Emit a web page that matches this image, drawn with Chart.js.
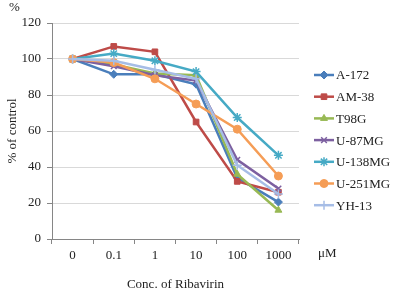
<!DOCTYPE html>
<html>
<head>
<meta charset="utf-8">
<script src="https://cdn.jsdelivr.net/npm/chart.js@4.4.1/dist/chart.umd.min.js"></script>
<style>
  html, body { margin: 0; padding: 0; background: #fff; }
  #wrap { width: 399px; height: 292px; position: relative; }
</style>
</head>
<body>
<div id="wrap"><canvas id="c"></canvas></div>
<script>
// concentrations of ribavirin (uM)
const doses = ['0', '0.1', '1', '10', '100', '1000'];
const yTicks = [0, 20, 40, 60, 80, 100, 120];

// % of control per cell line
const a172    = [100, 91.5, 91.5, 86, 34, 20.5];
const am38    = [100, 107, 104, 65, 32, 26];
const t98g    = [100, 97, 92, 91, 36, 16];
const u87mg   = [100, 96, 91, 88, 44, 28];
const u138mg  = [100, 103, 99, 93, 67.5, 46.5];
const u251mg  = [100, 98, 89, 75, 61, 35];
const yh13    = [100, 99, 94, 89, 41, 25];

const names  = ['A-172', 'AM-38', 'T98G', 'U-87MG', 'U-138MG', 'U-251MG', 'YH-13'];
const series = [a172, am38, t98g, u87mg, u138mg, u251mg, yh13];
const colors = ['#4A7EBB', '#BE4B48', '#98B954', '#7D60A0', '#46AAC5', '#F59D56', '#A6BDE6'];
const marks  = ['rectRot', 'rect', 'triangle', 'crossRot', 'star', 'circle', 'cross'];
const sizes  = [4, 4, 4, 4, 4.5, 4, 4.5];

const FONT = "'Liberation Serif', 'Times New Roman', serif";

const datasets = series.map((d, i) => ({
  label: names[i],
  data: d,
  borderColor: colors[i],
  backgroundColor: colors[i],
  borderWidth: 2.5,
  pointStyle: marks[i],
  pointRadius: sizes[i],
  pointBorderWidth: (marks[i] === 'crossRot' || marks[i] === 'star' || marks[i] === 'cross') ? 1.5 : 1,
  order: 10 - i,
  tension: 0
}));

// legend at right + extra labels
const extras = {
  id: 'extras',
  afterDraw(chart) {
    const ctx = chart.ctx;
    ctx.save();
    ctx.font = '13px ' + FONT;
    ctx.textBaseline = 'middle';
    ctx.textAlign = 'left';
    ctx.fillStyle = '#222';
    ctx.fillText('%', 9, 8);
    ctx.fillText('\u03bcM', 318, chart.scales.x.bottom - 38);

    const x0 = 314, y0 = 75, step = 21.7;
    chart.data.datasets.forEach((ds, i) => {
      const y = y0 + i * step;
      ctx.strokeStyle = ds.borderColor;
      ctx.fillStyle = ds.borderColor;
      ctx.lineWidth = 2.5;
      ctx.beginPath();
      ctx.moveTo(x0, y);
      ctx.lineTo(x0 + 20, y);
      ctx.stroke();
      ctx.lineWidth = ds.pointBorderWidth;
      Chart.helpers.drawPoint(ctx, {
        pointStyle: ds.pointStyle,
        radius: ds.pointRadius,
        borderWidth: ds.pointBorderWidth,
        rotation: 0
      }, x0 + 10, y);
      ctx.fillStyle = '#222';
      ctx.fillText(ds.label, x0 + 22, y + 1);
    });
    ctx.restore();
  }
};

new Chart(document.getElementById('c'), {
  type: 'line',
  data: { labels: doses, datasets: datasets },
  plugins: [extras],
  options: {
    responsive: true,
    maintainAspectRatio: false,
    animation: false,
    layout: { padding: { left: 0, right: 100, top: 23, bottom: 0 } },
    plugins: {
      legend: { display: false },
      tooltip: { enabled: false }
    },
    scales: {
      x: {
        offset: true,
        grid: { offset: true, drawOnChartArea: false, color: '#868686', tickLength: 5 },
        border: { color: '#868686', width: 1 },
        ticks: { color: '#222', font: { family: FONT, size: 13 }, padding: 4, maxRotation: 0 },
        title: { display: true, text: 'Conc. of Ribavirin', color: '#222', font: { family: FONT, size: 13 }, padding: { top: 8, bottom: 0 } },
        afterFit(s) { s.height = 53; }
      },
      y: {
        min: 0,
        max: 120,
        afterBuildTicks(s) { s.ticks = yTicks.map(v => ({ value: v })); },
        grid: { color: '#D9D9D9', tickColor: '#868686', tickLength: 5 },
        border: { color: '#868686', width: 1 },
        ticks: { color: '#222', font: { family: FONT, size: 13 }, padding: 6 },
        title: { display: true, text: '% of control', color: '#222', font: { family: FONT, size: 13 }, padding: { top: 5, bottom: 0 } },
        afterFit(s) { s.width = 52; }
      }
    }
  }
});
</script>
</body>
</html>
